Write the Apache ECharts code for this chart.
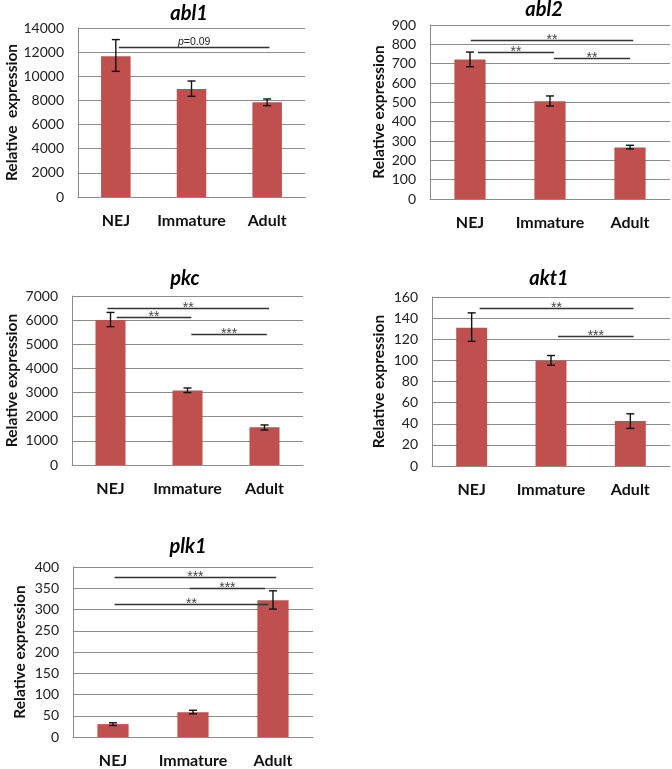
<!DOCTYPE html>
<html><head><meta charset="utf-8">
<script src="https://cdn.jsdelivr.net/npm/echarts@6/dist/echarts.min.js"></script>
<style>html,body{margin:0;padding:0;background:#fff}#c{width:672px;height:769px}</style>
</head><body><div id="c"></div>
<script>
// ---- data ----
const categories = ['NEJ', 'Immature', 'Adult'];
const genes = ['abl1', 'abl2', 'pkc', 'akt1', 'plk1'];

const abl1Values = [11660, 8950, 7845];
const abl1Low = [10410, 8340, 7570];
const abl1High = [13040, 9610, 8120];

const abl2Values = [722, 505, 267];
const abl2Low = [684, 481, 259];
const abl2High = [760, 533, 278];

const pkcValues = [6010, 3090, 1560];
const pkcLow = [5730, 3000, 1450];
const pkcHigh = [6320, 3190, 1660];

const akt1Values = [131, 100, 42.5];
const akt1Low = [118, 95.4, 35.6];
const akt1High = [145, 104.6, 49.4];

const plk1Values = [30.3, 58.3, 322];
const plk1Low = [27.2, 54.4, 301];
const plk1High = [33.4, 62.9, 344];

// y-axis ticks: [max, interval]
const yTicks = [[14000, 2000], [900, 100], [7000, 1000], [160, 20], [400, 50]];

// significance brackets: [fromCategoryPos, toCategoryPos, yValue]
const abl1Sig = [[0.04, 2.03, 12450]];
const abl1SigLabels = ['p=0.09'];
const abl2Sig = [[0.01, 2.04, 821], [0.1, 1.05, 760], [1.05, 2.0, 728]];
const abl2SigLabels = ['**', '**', '**'];
const pkcSig = [[-0.04, 2.06, 6517], [0.08, 1.05, 6144], [1.05, 2.03, 5426]];
const pkcSigLabels = ['**', '**', '***'];
const akt1Sig = [[0.1, 2.04, 150], [1.09, 2.04, 122.8]];
const akt1SigLabels = ['**', '***'];
const plk1Sig = [[0.02, 2.04, 376.7], [0.96, 1.9, 349.5], [0.02, 1.94, 313]];
const plk1SigLabels = ['***', '***', '**'];

// ---- layout / styles ----
const panels = [
  {values: abl1Values, low: abl1Low, high: abl1High, sig: abl1Sig, sigLabels: abl1SigLabels, yName: 'Relative  expression'},
  {values: abl2Values, low: abl2Low, high: abl2High, sig: abl2Sig, sigLabels: abl2SigLabels, yName: 'Relative expression'},
  {values: pkcValues, low: pkcLow, high: pkcHigh, sig: pkcSig, sigLabels: pkcSigLabels, yName: 'Relative expression'},
  {values: akt1Values, low: akt1Low, high: akt1High, sig: akt1Sig, sigLabels: akt1SigLabels, yName: 'Relative expression'},
  {values: plk1Values, low: plk1Low, high: plk1High, sig: plk1Sig, sigLabels: plk1SigLabels, yName: 'Relative expression'}
];
const gridBoxes = [
  {left: 78, top: 28, width: 227, height: 169},
  {left: 430, top: 25, width: 240, height: 174},
  {left: 72, top: 296, width: 231, height: 169},
  {left: 432, top: 297, width: 238, height: 169},
  {left: 73, top: 567, width: 240, height: 171}
];
const nameGaps = [58, 43, 52, 45, 45];
const titlePos = [[189, 14], [544, 10], [185, 279], [549, 279], [188, 547]];

const FONT = 'Lato, "Open Sans", sans-serif';
const SIGFONT = '"Liberation Sans", Arial, sans-serif';
const BAR = '#C0504D';
const GRID = '#8c8c8c';

const option = {
  animation: false,
  backgroundColor: '#fff',
  grid: [], xAxis: [], yAxis: [], series: [],
  graphic: []
};

panels.forEach((p, i) => {
  option.grid.push(Object.assign({containLabel: false}, gridBoxes[i]));
  option.xAxis.push({
    type: 'category', gridIndex: i, data: categories,
    axisLine: {show: true, lineStyle: {color: GRID, width: 1}},
    axisTick: {show: false},
    axisLabel: {interval: 0, margin: 16, fontFamily: FONT, fontWeight: 'bold', fontSize: 16, color: '#111'}
  });
  option.yAxis.push({
    type: 'value', gridIndex: i, min: 0, max: yTicks[i][0], interval: yTicks[i][1],
    name: p.yName, nameLocation: 'middle', nameGap: nameGaps[i],
    nameTextStyle: {fontFamily: FONT, fontWeight: 'bold', fontSize: 15.5, color: '#111'},
    axisLine: {show: true, lineStyle: {color: GRID, width: 1}},
    axisTick: {show: false},
    splitLine: {show: true, lineStyle: {color: GRID, width: 1}},
    axisLabel: {margin: 14, fontFamily: FONT, fontSize: 14, color: '#222',
      formatter: v => String(v)}
  });
  option.series.push({
    type: 'bar', xAxisIndex: i, yAxisIndex: i, data: p.values,
    barWidth: '39%', itemStyle: {color: BAR}, z: 2
  });
  option.series.push({
    type: 'custom', xAxisIndex: i, yAxisIndex: i, z: 4,
    data: categories.map((c, k) => [k, p.low[k], p.high[k]]),
    encode: {x: 0, y: [1, 2]},
    renderItem: function (params, api) {
      const lo = api.coord([api.value(0), api.value(1)]);
      const hi = api.coord([api.value(0), api.value(2)]);
      const hw = 4;
      const st = {stroke: '#111', lineWidth: 1.4};
      return {type: 'group', children: [
        {type: 'line', shape: {x1: lo[0], y1: lo[1], x2: hi[0], y2: hi[1]}, style: st},
        {type: 'line', shape: {x1: lo[0] - hw, y1: lo[1], x2: lo[0] + hw, y2: lo[1]}, style: st},
        {type: 'line', shape: {x1: hi[0] - hw, y1: hi[1], x2: hi[0] + hw, y2: hi[1]}, style: st}
      ]};
    }
  });
  const labels = p.sigLabels;
  option.series.push({
    type: 'custom', xAxisIndex: i, yAxisIndex: i, z: 5,
    data: p.sig.map(s => [0, s[2], s[0], s[1]]),
    encode: {x: 0, y: 1},
    renderItem: function (params, api) {
      const yv = api.value(1);
      const c0 = api.coord([0, yv]);
      const c1 = api.coord([1, yv]);
      const bw = c1[0] - c0[0];
      const x1 = c0[0] + api.value(2) * bw;
      const x2 = c0[0] + api.value(3) * bw;
      const y = Math.round(c0[1]) + 0.5;
      const lab = labels[params.dataIndex];
      const children = [
        {type: 'line', shape: {x1: x1, y1: y, x2: x2, y2: y}, style: {stroke: '#333', lineWidth: 1.3}}
      ];
      if (lab.indexOf('p=') === 0) {
        children.push({type: 'text', style: {
          x: (x1 + x2) / 2, y: y - 5,
          text: '{i|p}{n|' + lab.slice(1) + '}',
          align: 'center', verticalAlign: 'middle',
          rich: {
            i: {fontFamily: SIGFONT, fontStyle: 'italic', fontSize: 10.5, fill: '#222'},
            n: {fontFamily: SIGFONT, fontSize: 10.5, fill: '#222'}
          }
        }});
      } else {
        children.push({type: 'text', style: {
          x: (x1 + x2) / 2, y: y - 0.5, text: lab,
          align: 'center', verticalAlign: 'middle',
          fontFamily: SIGFONT, fontSize: 14, fill: '#444'
        }});
      }
      return {type: 'group', children: children};
    }
  });
  option.graphic.push({
    type: 'text', x: titlePos[i][0], y: titlePos[i][1],
    style: {text: genes[i], align: 'center', verticalAlign: 'middle',
      fontFamily: FONT, fontWeight: 'bold', fontStyle: 'italic', fontSize: 20, fill: '#000'}
  });
});

const chart = echarts.init(document.getElementById('c'), null, {renderer: 'canvas'});
chart.setOption(option);
</script>
</body></html>
